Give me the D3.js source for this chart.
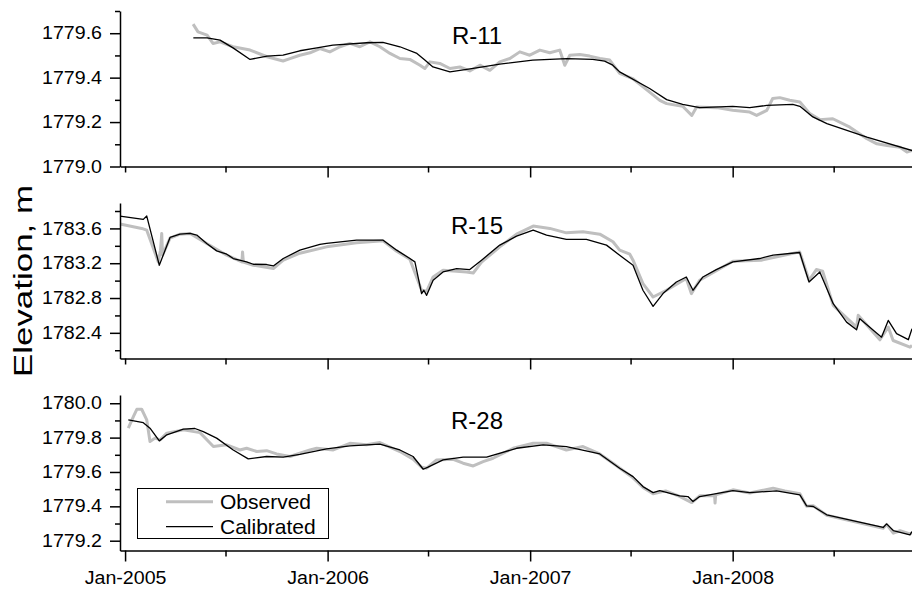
<!DOCTYPE html>
<html>
<head>
<meta charset="utf-8">
<script src="https://cdn.jsdelivr.net/npm/d3@7"></script>
<style>
  body { margin: 0; background: #fff; }
  text { font-family: 'Liberation Sans', Arial, sans-serif; fill: #000; }
</style>
</head>
<body>
<div id="visualization"></div>
<script>
// [decimal year, elevation m]
const r11Observed = [
  [2005.336, 1779.641], [2005.360, 1779.606], [2005.405, 1779.591], [2005.434, 1779.554], [2005.469, 1779.561],
  [2005.533, 1779.539], [2005.617, 1779.524], [2005.701, 1779.494], [2005.780, 1779.475], [2005.814, 1779.486],
  [2005.863, 1779.501], [2005.913, 1779.512], [2005.962, 1779.531], [2006.011, 1779.516], [2006.061, 1779.539],
  [2006.110, 1779.554], [2006.159, 1779.539], [2006.209, 1779.561], [2006.258, 1779.539], [2006.308, 1779.509],
  [2006.357, 1779.486], [2006.406, 1779.482], [2006.456, 1779.456], [2006.480, 1779.441], [2006.505, 1779.471],
  [2006.554, 1779.464], [2006.604, 1779.441], [2006.653, 1779.448], [2006.702, 1779.430], [2006.752, 1779.456],
  [2006.801, 1779.433], [2006.850, 1779.471], [2006.900, 1779.486], [2006.949, 1779.516], [2006.998, 1779.501],
  [2007.048, 1779.524], [2007.097, 1779.512], [2007.146, 1779.524], [2007.171, 1779.456], [2007.196, 1779.501],
  [2007.245, 1779.504], [2007.294, 1779.497], [2007.344, 1779.486], [2007.393, 1779.479], [2007.442, 1779.419],
  [2007.506, 1779.396], [2007.590, 1779.335], [2007.640, 1779.298], [2007.674, 1779.283], [2007.753, 1779.271],
  [2007.798, 1779.230], [2007.822, 1779.268], [2007.921, 1779.265], [2008.000, 1779.253], [2008.084, 1779.245],
  [2008.118, 1779.230], [2008.168, 1779.253], [2008.197, 1779.306], [2008.232, 1779.310], [2008.281, 1779.298],
  [2008.331, 1779.290], [2008.380, 1779.238], [2008.429, 1779.211], [2008.493, 1779.215], [2008.577, 1779.177],
  [2008.661, 1779.125], [2008.710, 1779.102], [2008.760, 1779.095], [2008.824, 1779.087], [2008.858, 1779.065],
  [2008.883, 1779.072],
];

const r11Calibrated = [
  [2005.337, 1779.579], [2005.405, 1779.579], [2005.469, 1779.569], [2005.533, 1779.534], [2005.617, 1779.482],
  [2005.701, 1779.497], [2005.780, 1779.501], [2005.863, 1779.521], [2005.947, 1779.534], [2006.026, 1779.546],
  [2006.194, 1779.557], [2006.273, 1779.559], [2006.357, 1779.539], [2006.441, 1779.509], [2006.480, 1779.479],
  [2006.520, 1779.448], [2006.604, 1779.426], [2006.687, 1779.437], [2006.766, 1779.448], [2006.850, 1779.461],
  [2007.013, 1779.479], [2007.181, 1779.486], [2007.309, 1779.482], [2007.368, 1779.474], [2007.408, 1779.456],
  [2007.442, 1779.426], [2007.590, 1779.351], [2007.674, 1779.301], [2007.753, 1779.280], [2007.837, 1779.265],
  [2008.000, 1779.271], [2008.084, 1779.265], [2008.168, 1779.275], [2008.296, 1779.280], [2008.331, 1779.271],
  [2008.395, 1779.223], [2008.464, 1779.193], [2008.661, 1779.132], [2008.883, 1779.072],
];

const r15Observed = [
  [2004.975, 1783.650], [2005.082, 1783.600], [2005.107, 1783.580], [2005.164, 1783.215], [2005.175, 1783.350],
  [2005.181, 1783.542], [2005.185, 1783.292], [2005.222, 1783.488], [2005.271, 1783.534], [2005.321, 1783.542],
  [2005.403, 1783.427], [2005.502, 1783.292], [2005.577, 1783.215], [2005.580, 1783.330], [2005.584, 1783.212],
  [2005.633, 1783.177], [2005.732, 1783.139], [2005.781, 1783.235], [2005.863, 1783.315], [2005.995, 1783.388],
  [2006.143, 1783.434], [2006.274, 1783.457], [2006.341, 1783.338], [2006.406, 1783.246], [2006.464, 1782.889],
  [2006.489, 1782.877], [2006.521, 1783.042], [2006.570, 1783.119], [2006.686, 1783.100], [2006.719, 1783.088],
  [2006.760, 1783.212], [2006.850, 1783.388], [2006.933, 1783.534], [2007.015, 1783.627], [2007.097, 1783.600],
  [2007.179, 1783.549], [2007.261, 1783.561], [2007.344, 1783.534], [2007.409, 1783.446], [2007.442, 1783.350],
  [2007.492, 1783.304], [2007.508, 1783.235], [2007.557, 1782.966], [2007.607, 1782.812], [2007.673, 1782.889],
  [2007.771, 1783.024], [2007.796, 1782.851], [2007.837, 1783.004], [2008.001, 1783.223], [2008.141, 1783.235],
  [2008.330, 1783.330], [2008.376, 1783.004], [2008.412, 1783.127], [2008.443, 1783.108], [2008.495, 1782.716],
  [2008.610, 1782.466], [2008.618, 1782.601], [2008.725, 1782.320], [2008.766, 1782.466], [2008.790, 1782.312],
  [2008.873, 1782.235], [2008.883, 1782.255],
];

const r15Calibrated = [
  [2004.975, 1783.742], [2005.090, 1783.704], [2005.107, 1783.742], [2005.169, 1783.177], [2005.222, 1783.496],
  [2005.271, 1783.534], [2005.321, 1783.542], [2005.354, 1783.523], [2005.403, 1783.427], [2005.452, 1783.342],
  [2005.502, 1783.304], [2005.534, 1783.254], [2005.600, 1783.215], [2005.633, 1783.188], [2005.699, 1783.185],
  [2005.732, 1783.169], [2005.781, 1783.254], [2005.863, 1783.350], [2005.962, 1783.416], [2005.995, 1783.427],
  [2006.143, 1783.465], [2006.274, 1783.465], [2006.341, 1783.350], [2006.406, 1783.254], [2006.431, 1783.215],
  [2006.464, 1782.851], [2006.475, 1782.889], [2006.489, 1782.831], [2006.521, 1783.004], [2006.570, 1783.100],
  [2006.637, 1783.139], [2006.702, 1783.127], [2006.760, 1783.235], [2006.850, 1783.408], [2006.933, 1783.511],
  [2007.015, 1783.580], [2007.081, 1783.523], [2007.179, 1783.473], [2007.278, 1783.473], [2007.377, 1783.408],
  [2007.442, 1783.292], [2007.508, 1783.177], [2007.557, 1782.889], [2007.607, 1782.704], [2007.656, 1782.851],
  [2007.722, 1782.984], [2007.771, 1783.042], [2007.804, 1782.889], [2007.853, 1783.042], [2007.919, 1783.127],
  [2008.001, 1783.215], [2008.133, 1783.254], [2008.199, 1783.292], [2008.330, 1783.323], [2008.347, 1783.197],
  [2008.376, 1782.984], [2008.429, 1783.100], [2008.495, 1782.735], [2008.561, 1782.523], [2008.610, 1782.435],
  [2008.626, 1782.563], [2008.733, 1782.350], [2008.766, 1782.543], [2008.807, 1782.390], [2008.865, 1782.321],
  [2008.883, 1782.447],
];

const r28Observed = [
  [2005.016, 1779.855], [2005.041, 1779.922], [2005.058, 1779.965], [2005.082, 1779.965], [2005.107, 1779.903],
  [2005.123, 1779.777], [2005.148, 1779.797], [2005.173, 1779.787], [2005.206, 1779.826], [2005.288, 1779.845],
  [2005.370, 1779.829], [2005.436, 1779.748], [2005.502, 1779.758], [2005.567, 1779.728], [2005.600, 1779.738],
  [2005.650, 1779.719], [2005.699, 1779.724], [2005.748, 1779.705], [2005.814, 1779.690], [2005.863, 1779.709],
  [2005.913, 1779.728], [2005.946, 1779.738], [2006.028, 1779.728], [2006.110, 1779.767], [2006.192, 1779.758],
  [2006.258, 1779.771], [2006.357, 1779.719], [2006.422, 1779.674], [2006.464, 1779.628], [2006.489, 1779.622],
  [2006.538, 1779.670], [2006.620, 1779.674], [2006.669, 1779.651], [2006.719, 1779.635], [2006.768, 1779.660],
  [2006.817, 1779.680], [2006.916, 1779.738], [2007.015, 1779.767], [2007.081, 1779.767], [2007.179, 1779.728],
  [2007.261, 1779.748], [2007.344, 1779.705], [2007.409, 1779.651], [2007.508, 1779.566], [2007.557, 1779.510],
  [2007.607, 1779.473], [2007.669, 1779.490], [2007.738, 1779.458], [2007.798, 1779.422], [2007.837, 1779.461],
  [2007.911, 1779.461], [2007.913, 1779.419], [2007.916, 1779.467], [2008.001, 1779.496], [2008.084, 1779.478],
  [2008.199, 1779.506], [2008.257, 1779.490], [2008.331, 1779.473], [2008.364, 1779.400], [2008.397, 1779.403],
  [2008.463, 1779.348], [2008.741, 1779.272], [2008.758, 1779.295], [2008.791, 1779.244], [2008.824, 1779.258],
  [2008.873, 1779.240], [2008.883, 1779.246],
];

const r28Calibrated = [
  [2005.016, 1779.903], [2005.090, 1779.887], [2005.123, 1779.855], [2005.169, 1779.781], [2005.206, 1779.816],
  [2005.288, 1779.849], [2005.345, 1779.853], [2005.386, 1779.835], [2005.452, 1779.797], [2005.534, 1779.728],
  [2005.608, 1779.676], [2005.699, 1779.690], [2005.781, 1779.686], [2005.863, 1779.702], [2005.995, 1779.734],
  [2006.110, 1779.752], [2006.258, 1779.762], [2006.357, 1779.728], [2006.422, 1779.690], [2006.472, 1779.616],
  [2006.496, 1779.628], [2006.570, 1779.670], [2006.669, 1779.686], [2006.785, 1779.686], [2006.933, 1779.738],
  [2007.064, 1779.758], [2007.179, 1779.748], [2007.344, 1779.705], [2007.442, 1779.622], [2007.508, 1779.573],
  [2007.557, 1779.515], [2007.607, 1779.480], [2007.640, 1779.492], [2007.738, 1779.461], [2007.779, 1779.457],
  [2007.804, 1779.428], [2007.837, 1779.457], [2008.001, 1779.492], [2008.084, 1779.480], [2008.216, 1779.490],
  [2008.331, 1779.467], [2008.364, 1779.403], [2008.397, 1779.399], [2008.463, 1779.351], [2008.741, 1779.277],
  [2008.758, 1779.298], [2008.791, 1779.259], [2008.873, 1779.234], [2008.883, 1779.253],
];

const wellNames = ['R-11', 'R-15', 'R-28'];
const yDomains = [[1779.0, 1779.7], [1782.105, 1783.892], [1779.143, 1780.048]];
const yMajorTicks = [
  [1779.0, 1779.2, 1779.4, 1779.6],
  [1782.4, 1782.8, 1783.2, 1783.6],
  [1779.2, 1779.4, 1779.6, 1779.8, 1780.0],
];
const yMinorTicks = [
  [1779.1, 1779.3, 1779.5, 1779.7],
  [1782.2, 1782.6, 1783.0, 1783.4, 1783.8],
  [1779.3, 1779.5, 1779.7, 1779.9],
];
const xTickLabels = ['Jan-2005', 'Jan-2006', 'Jan-2007', 'Jan-2008'];
const xMinorLabels = ['Jul-2005', 'Jul-2006', 'Jul-2007', 'Jul-2008'];
const legendLabels = ['Observed', 'Calibrated'];
const yTitle = 'Elevation, m';

const panels = [
  { name: wellNames[0], observed: r11Observed, calibrated: r11Calibrated },
  { name: wellNames[1], observed: r15Observed, calibrated: r15Calibrated },
  { name: wellNames[2], observed: r28Observed, calibrated: r28Calibrated },
];

const width = 912;
const height = 591;
const left = 120;
const right = 912;
const panelTops = [11, 203, 395];
const panelHeight = 155.5;
const obsColor = '#bfbfbf';

const parseMonth = d3.timeParse('%b-%Y');

// decimal year -> Date
function toDate(t) {
  const y = Math.floor(t);
  const a = new Date(y, 0, 1);
  const b = new Date(y + 1, 0, 1);
  return new Date(+a + (t - y) * (b - a));
}

// stretch rendered text a bit wider, the source export is not square
function widen(sel, k) {
  sel.each(function () {
    const w = this.getComputedTextLength();
    d3.select(this).attr('textLength', w * k).attr('lengthAdjust', 'spacingAndGlyphs');
  });
}

const svg = d3.select('#visualization')
  .append('svg')
  .attr('width', width)
  .attr('height', height);

const x = d3.scaleTime()
  .domain([toDate(2004.975), toDate(2008.883)])
  .range([left, right]);

panels.forEach((p, i) => {
  const top = panelTops[i];
  const bottom = top + panelHeight;
  const y = d3.scaleLinear().domain(yDomains[i]).range([bottom, top]);
  const g = svg.append('g');

  const line = d3.line()
    .x((d) => x(toDate(d[0])))
    .y((d) => y(d[1]));

  g.append('path')
    .datum(p.observed)
    .attr('d', line)
    .attr('fill', 'none')
    .attr('stroke', obsColor)
    .attr('stroke-width', 3)
    .attr('stroke-linejoin', 'round');

  g.append('path')
    .datum(p.calibrated)
    .attr('d', line)
    .attr('fill', 'none')
    .attr('stroke', '#000')
    .attr('stroke-width', 1.3)
    .attr('stroke-linejoin', 'round');

  // y axis, major + minor ticks
  const yAxis = g.append('g')
    .attr('transform', `translate(${left},0)`)
    .call(d3.axisLeft(y).tickValues(yMajorTicks[i]).tickSize(10).tickSizeOuter(0)
      .tickPadding(8).tickFormat(d3.format('.1f')));
  g.append('g')
    .attr('transform', `translate(${left},0)`)
    .call(d3.axisLeft(y).tickValues(yMinorTicks[i]).tickSize(5).tickSizeOuter(0).tickFormat(''))
    .select('.domain').remove();
  yAxis.selectAll('text').attr('font-size', 17.5).attr('font-family', null);
  widen(yAxis.selectAll('text'), 1.12);

  // x axis
  const majors = xTickLabels.map(parseMonth);
  const xAxis = g.append('g')
    .attr('transform', `translate(0,${bottom})`)
    .call(d3.axisBottom(x).tickValues(majors).tickSize(11).tickSizeOuter(0)
      .tickPadding(10).tickFormat(i === 2 ? d3.timeFormat('%b-%Y') : ''));
  g.append('g')
    .attr('transform', `translate(0,${bottom})`)
    .call(d3.axisBottom(x).tickValues(xMinorLabels.map(parseMonth)).tickSize(6).tickSizeOuter(0).tickFormat(''))
    .select('.domain').remove();
  if (i < 2) {
    // first tick is drawn short in the upper panels
    xAxis.selectAll('.tick line').filter((d) => +d === +majors[0]).attr('y2', 6);
  }
  xAxis.selectAll('text').attr('font-size', 17.5).attr('font-family', null);
  widen(xAxis.selectAll('text'), 1.12);

  svg.selectAll('.domain, .tick line').attr('stroke-width', 1.5);

  g.append('text')
    .attr('x', 477)
    .attr('y', top + [33, 31, 34][i])
    .attr('text-anchor', 'middle')
    .attr('font-size', 24)
    .text(p.name);
});

// y title
svg.append('text')
  .attr('transform', 'translate(32,281) rotate(-90)')
  .attr('text-anchor', 'middle')
  .attr('font-size', 26)
  .attr('textLength', 192)
  .attr('lengthAdjust', 'spacingAndGlyphs')
  .text(yTitle);

// legend
const legend = svg.append('g');
legend.append('rect')
  .attr('x', 137.5).attr('y', 488.5)
  .attr('width', 191).attr('height', 50)
  .attr('fill', '#fff')
  .attr('stroke', '#000')
  .attr('stroke-width', 1);
legendLabels.forEach((label, k) => {
  const ly = 501.7 + k * 25;
  legend.append('line')
    .attr('x1', 166).attr('x2', 213)
    .attr('y1', ly).attr('y2', ly)
    .attr('stroke', k === 0 ? obsColor : '#000')
    .attr('stroke-width', k === 0 ? 3 : 1.3);
  legend.append('text')
    .attr('x', 220)
    .attr('y', ly + 7.6)
    .attr('font-size', 21)
    .text(label);
});
</script>
</body>
</html>
